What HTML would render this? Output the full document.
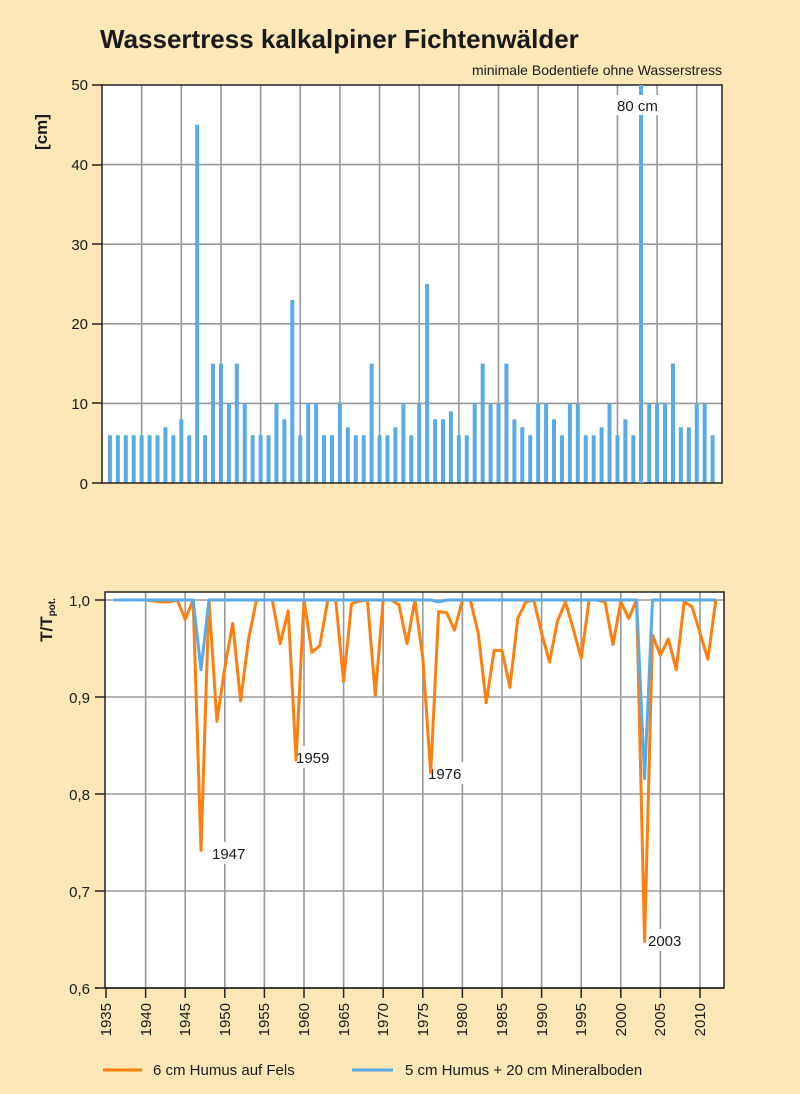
<!DOCTYPE html>
<html><head><meta charset="utf-8"><style>
html,body{margin:0;padding:0;background:#fde7b6;}
svg{display:block;font-family:"Liberation Sans",sans-serif;}
</style></head><body>
<svg id="s" width="800" height="1094" viewBox="0 0 800 1094" xmlns="http://www.w3.org/2000/svg">
<rect width="800" height="1094" fill="#fde7b6"/>
<text x="100" y="48" font-size="26" font-weight="bold" fill="#1a1a1a">Wassertress kalkalpiner Fichtenwälder</text>
<text x="722" y="75" font-size="14" text-anchor="end" fill="#1a1a1a">minimale Bodentiefe ohne Wasserstress</text>
<rect x="102" y="85" width="620" height="398" fill="#fff"/>
<g id="g1" stroke="#999" stroke-width="1.6"></g>
<g id="bars" fill="#5aaae6"></g>
<rect x="102" y="85" width="620" height="398" fill="none" stroke="#222" stroke-width="1.5"/>
<g font-size="15" text-anchor="end" fill="#1a1a1a">
<text x="88" y="90">50</text><text x="88" y="170">40</text><text x="88" y="250">30</text><text x="88" y="329">20</text><text x="88" y="409">10</text><text x="88" y="489">0</text>
</g>
<g stroke="#222" stroke-width="1.5"><line x1="92" y1="85" x2="102" y2="85"/><line x1="92" y1="165" x2="102" y2="165"/><line x1="92" y1="244" x2="102" y2="244"/><line x1="92" y1="324" x2="102" y2="324"/><line x1="92" y1="403" x2="102" y2="403"/><line x1="92" y1="483" x2="102" y2="483"/></g>
<text transform="translate(47,132) rotate(-90)" font-size="17" font-weight="bold" text-anchor="middle" fill="#1a1a1a">[cm]</text>
<rect x="616" y="95" width="50" height="20" fill="#fff"/>
<text x="617" y="111" font-size="15" fill="#1a1a1a">80 cm</text>
<rect x="639" y="85" width="4" height="10" fill="#5aaae6"/>
<rect x="639" y="115" width="4" height="368" fill="#5aaae6"/>

<rect x="105" y="592" width="619" height="396" fill="#fff"/>
<g id="g2" stroke="#999" stroke-width="1.6"></g>
<rect x="210" y="842" width="42" height="22" fill="#fff"/>
<rect x="293" y="746" width="42" height="22" fill="#fff"/>
<rect x="426" y="762" width="42" height="22" fill="#fff"/>
<rect x="646" y="929" width="42" height="22" fill="#fff"/>
<g font-size="15" fill="#1a1a1a">
<text x="212" y="859">1947</text><text x="296" y="763">1959</text><text x="428" y="779">1976</text><text x="648" y="946">2003</text>
</g>
<polyline id="or" fill="none" stroke="#ff7f0e" stroke-width="3" stroke-linejoin="round"/>
<polyline id="bl" fill="none" stroke="#5aaae6" stroke-width="3" stroke-linejoin="round"/>
<rect x="105" y="592" width="619" height="396" fill="none" stroke="#222" stroke-width="1.5"/>
<g font-size="15" text-anchor="end" fill="#1a1a1a">
<text x="90" y="606">1,0</text><text x="90" y="703">0,9</text><text x="90" y="800">0,8</text><text x="90" y="897">0,7</text><text x="90" y="994">0,6</text>
</g>
<g id="tk" stroke="#222" stroke-width="1.5"><line x1="95" y1="600" x2="105" y2="600"/><line x1="95" y1="697" x2="105" y2="697"/><line x1="95" y1="794" x2="105" y2="794"/><line x1="95" y1="891" x2="105" y2="891"/><line x1="95" y1="988" x2="98" y2="988"/></g>
<text transform="translate(52,620) rotate(-90)" font-size="17" font-weight="bold" text-anchor="middle" fill="#1a1a1a">T/T<tspan font-size="10" dy="3">pot.</tspan></text>
<g font-size="15" fill="#1a1a1a" text-anchor="end">
<text transform="translate(111,1003) rotate(-90)">1935</text>
<text transform="translate(151,1003) rotate(-90)">1940</text>
<text transform="translate(190,1003) rotate(-90)">1945</text>
<text transform="translate(230,1003) rotate(-90)">1950</text>
<text transform="translate(269,1003) rotate(-90)">1955</text>
<text transform="translate(309,1003) rotate(-90)">1960</text>
<text transform="translate(349,1003) rotate(-90)">1965</text>
<text transform="translate(388,1003) rotate(-90)">1970</text>
<text transform="translate(428,1003) rotate(-90)">1975</text>
<text transform="translate(467,1003) rotate(-90)">1980</text>
<text transform="translate(507,1003) rotate(-90)">1985</text>
<text transform="translate(547,1003) rotate(-90)">1990</text>
<text transform="translate(586,1003) rotate(-90)">1995</text>
<text transform="translate(626,1003) rotate(-90)">2000</text>
<text transform="translate(665,1003) rotate(-90)">2005</text>
<text transform="translate(705,1003) rotate(-90)">2010</text>
</g>
<line x1="103" y1="1070" x2="142" y2="1070" stroke="#ff7f0e" stroke-width="3"/>
<text x="153" y="1075" font-size="15" fill="#1a1a1a">6 cm Humus auf Fels</text>
<line x1="352" y1="1070" x2="393" y2="1070" stroke="#5aaae6" stroke-width="3"/>
<text x="405" y="1075" font-size="15" fill="#1a1a1a">5 cm Humus + 20 cm Mineralboden</text>
</svg>
<script>
var NS="http://www.w3.org/2000/svg";
function el(p,t,a){var e=document.createElementNS(NS,t);for(var k in a)e.setAttribute(k,a[k]);p.appendChild(e);return e;}
var g1=document.getElementById("g1"),g2=document.getElementById("g2"),tk=document.getElementById("tk");
for(var i=1;i<=15;i++){var x=102+i*5*7.93;el(g1,"line",{x1:x,y1:85,x2:x,y2:483});}
for(var v=10;v<50;v+=10){var y=483-v*7.96;el(g1,"line",{x1:102,y1:y,x2:722,y2:y});}
for(var i=0;i<=15;i++){var x=106+i*5*7.92;if(i>0)el(g2,"line",{x1:x,y1:592,x2:x,y2:988});el(tk,"line",{x1:x,y1:988,x2:x,y2:998});}
el(tk,"line",{x1:95,y1:988,x2:724,y2:988});
[600,697,794,891].forEach(function(y){el(g2,"line",{x1:105,y1:y,x2:724,y2:y});});
var bars=[6,6,6,6,6,6,6,7,6,8,6,45,6,15,15,10,15,10,6,6,6,10,8,23,6,10,10,6,6,10,7,6,6,15,6,6,7,10,6,10,25,8,8,9,6,6,10,15,10,10,15,8,7,6,10,10,8,6,10,10,6,6,7,10,6,8,6,0,10,10,10,15,7,7,10,10,6];
var B=document.getElementById("bars");
bars.forEach(function(v,i){var yr=1936+i;if(yr==2003)return;var x=102+(yr-1935)*7.93;el(B,"rect",{x:x-2,y:483-v*7.96,width:4,height:v*7.96});});
var o={1936:1,1937:1,1938:1,1939:1,1940:1,1941:0.999,1942:0.998,1943:0.998,1944:1,1945:0.98,1946:1,1947:0.742,1948:1,1949:0.875,1950:0.93,1951:0.976,1952:0.896,1953:0.96,1954:1,1955:1,1956:1,1957:0.955,1958:0.989,1959:0.835,1960:1,1961:0.946,1962:0.953,1963:1,1964:1,1965:0.916,1966:0.996,1967:0.999,1968:1,1969:0.902,1970:1,1971:1,1972:0.995,1973:0.955,1974:1,1975:0.94,1976:0.822,1977:0.988,1978:0.987,1979:0.969,1980:1,1981:1,1982:0.966,1983:0.894,1984:0.948,1985:0.948,1986:0.91,1987:0.981,1988:0.998,1989:1,1990:0.966,1991:0.936,1992:0.978,1993:0.998,1994:0.97,1995:0.94,1996:1,1997:1,1998:0.998,1999:0.954,2000:0.998,2001:0.981,2002:1,2003:0.648,2004:0.964,2005:0.943,2006:0.96,2007:0.928,2008:0.998,2009:0.993,2010:0.966,2011:0.939,2012:1};
function X(y){return 106+(y-1935)*7.92;}function Y(v){return 600+(1-v)*970;}
var po=[],pb=[];
for(var y=1936;y<=2012;y++){po.push(X(y).toFixed(1)+","+Y(o[y]).toFixed(1));var b=y==1947?0.928:y==2003?0.816:(y==1977?0.998:1);pb.push(X(y).toFixed(1)+","+Y(b).toFixed(1));}
document.getElementById("or").setAttribute("points",po.join(" "));
document.getElementById("bl").setAttribute("points",pb.join(" "));
</script>
</body></html>
